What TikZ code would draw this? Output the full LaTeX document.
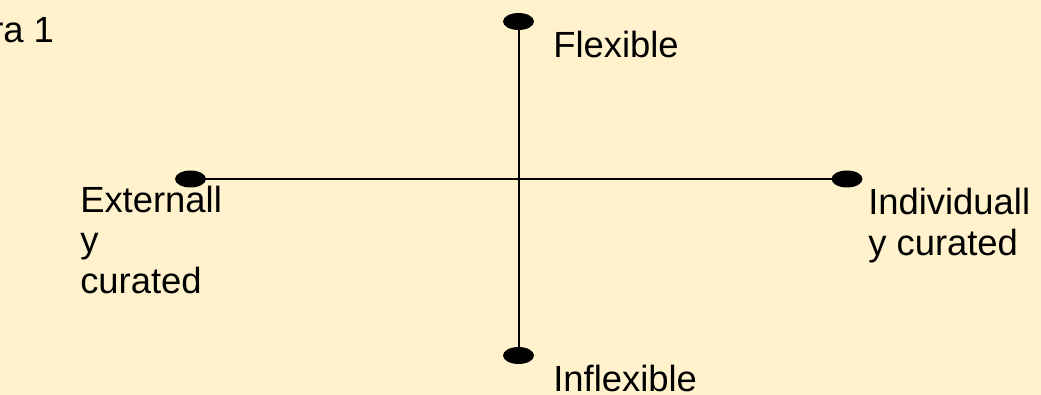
\documentclass[tikz,border=0pt]{standalone}
\usepackage{fontspec}
\setmainfont{Liberation Sans}
\usetikzlibrary{shapes.geometric}
\definecolor{bgcol}{RGB}{255,242,204}
\begin{document}
\begin{tikzpicture}[x=0.75pt,y=-0.75pt,
  dot/.style={ellipse,fill=black,inner sep=0pt,minimum width=23.25pt,minimum height=12.75pt},
  axis/.style={line width=1.5pt,black},
  lbl/.style={inner sep=0pt,anchor=base west,align=left,font=\fontsize{27.3pt}{30.3pt}\selectfont}]
\fill[bgcol] (0,0) rectangle (1041,395);
\useasboundingbox (0,0) rectangle (1041,395);
\coordinate (t) at (518.5,21.5);
\coordinate (b) at (518.5,355.5);
\coordinate (l) at (190.5,179);
\coordinate (r) at (847,179);
\draw[axis] (t) -- (b);
\draw[axis] (l) -- (r);
\node[dot] (top) at (t) {};
\node[dot] (bot) at (b) {};
\node[dot] (lft) at (l) {};
\node[dot] (rgt) at (r) {};
\node[lbl] (fig) at (-9,43) {ra 1};
\node[lbl] (flex) at (553,57.3) {Flexible};
\node[lbl] (inflex) at (553,391) {Inflexible};
\node[lbl] (ext) at (80,293) {Externall\\y\\curated};
\node[lbl] (ind) at (868,255) {Individuall\\y curated};
\end{tikzpicture}
\end{document}
